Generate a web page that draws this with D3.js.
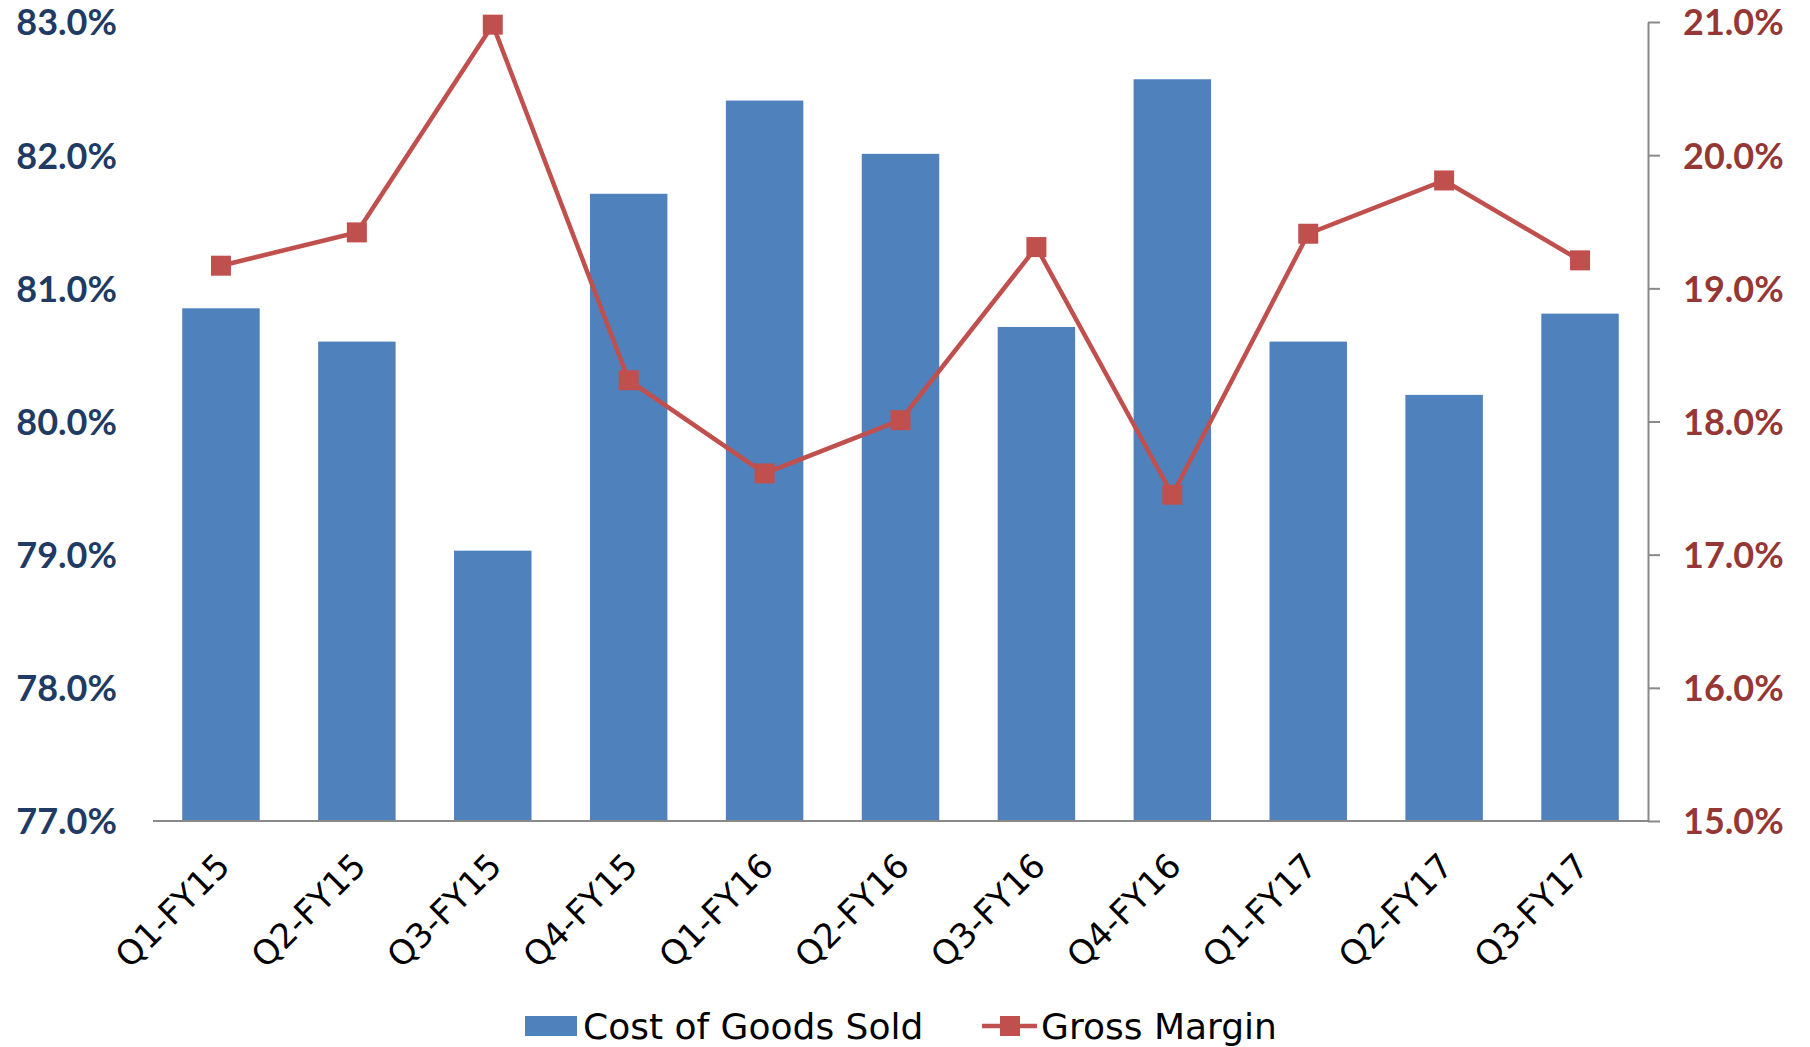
<!DOCTYPE html>
<html>
<head>
<meta charset="utf-8">
<script src="https://cdn.jsdelivr.net/npm/d3@7"></script>
<style>
  body { margin: 0; background: #fff; }
  svg text { font-family: "Lato", "Open Sans", sans-serif; }
  svg text.plain { font-family: "DejaVu Sans", sans-serif; }
</style>
</head>
<body>
<svg id="chart" width="1810" height="1047"></svg>
<script>
// quarters on the x axis
var quarters = ['Q1-FY15', 'Q2-FY15', 'Q3-FY15', 'Q4-FY15', 'Q1-FY16', 'Q2-FY16',
                'Q3-FY16', 'Q4-FY16', 'Q1-FY17', 'Q2-FY17', 'Q3-FY17'];
// bars, left axis (%)
var cogs = [80.85, 80.60, 79.03, 81.71, 82.41, 82.01, 80.71, 82.57, 80.60, 80.20, 80.81];
// line, right axis (%)
var grossMargin = [19.17, 19.42, 20.98, 18.31, 17.61, 18.01, 19.31, 17.45, 19.41, 19.81, 19.21];
var leftTicks = [77, 78, 79, 80, 81, 82, 83];
var rightTicks = [15, 16, 17, 18, 19, 20, 21];

var svg = d3.select('#chart');
var plotLeft = 153, plotRight = 1648, plotTop = 22, plotBottom = 821;

var x = d3.scaleBand()
    .domain(quarters)
    .range([plotLeft, plotRight])
    .paddingInner(0.43)
    .paddingOuter(0.215);

var yL = d3.scaleLinear().domain([77, 83]).range([plotBottom, plotTop]);
var yR = d3.scaleLinear().domain([15, 21]).range([plotBottom, plotTop]);

// bars
svg.selectAll('rect.bar')
    .data(quarters)
    .enter()
    .append('rect')
    .attr('class', 'bar')
    .attr('x', function(d) { return x(d); })
    .attr('width', x.bandwidth())
    .attr('y', function(d, i) { return yL(cogs[i]); })
    .attr('height', function(d, i) { return plotBottom - yL(cogs[i]); })
    .style('fill', '#4F81BD');

// x axis line
svg.append('line')
    .attr('x1', plotLeft).attr('x2', plotRight)
    .attr('y1', plotBottom).attr('y2', plotBottom)
    .style('stroke', '#898989')
    .style('stroke-width', 2);

// left axis labels (no line)
var gl = svg.append('g')
    .attr('transform', 'translate(' + (plotLeft - 36) + ',0)')
    .call(d3.axisLeft(yL).tickValues(leftTicks).tickSize(0).tickPadding(0)
        .tickFormat(function(d) { return d.toFixed(1) + '%'; }));
gl.select('.domain').remove();
gl.selectAll('text')
    .attr('dy', '0.36em')
    .style('font-size', '36px')
    .style('font-weight', 'bold')
    .style('fill', '#1F3B63');

// right axis
var gr = svg.append('g')
    .attr('transform', 'translate(' + plotRight + ',0)')
    .call(d3.axisRight(yR).tickValues(rightTicks).tickSizeInner(12).tickSizeOuter(0).tickPadding(23)
        .tickFormat(function(d) { return d.toFixed(1) + '%'; }));
gr.select('.domain').style('stroke', '#898989').style('stroke-width', 2);
gr.selectAll('.tick line').style('stroke', '#898989').style('stroke-width', 2);
gr.selectAll('text')
    .attr('dy', '0.36em')
    .style('font-size', '36px')
    .style('font-weight', 'bold')
    .style('fill', '#953735');

// x labels rotated
svg.selectAll('text.xlab')
    .data(quarters)
    .enter()
    .append('text')
    .attr('class', 'xlab plain')
    .attr('transform', function(d) {
        return 'translate(' + (x(d) + x.bandwidth() / 2 - 6) + ',' + (plotBottom + 30) + ') rotate(-45)';
    })
    .attr('text-anchor', 'end')
    .attr('dy', '0.7em')
    .style('font-size', '34px')
    .style('fill', '#000')
    .text(function(d) { return d; });

// gross margin line
var line = d3.line()
    .x(function(d, i) { return x(quarters[i]) + x.bandwidth() / 2; })
    .y(function(d) { return yR(d); });

svg.append('path')
    .datum(grossMargin)
    .attr('d', line)
    .style('fill', 'none')
    .style('stroke', '#C0504D')
    .style('stroke-width', 4.5);

svg.selectAll('rect.mark')
    .data(grossMargin)
    .enter()
    .append('rect')
    .attr('class', 'mark')
    .attr('x', function(d, i) { return x(quarters[i]) + x.bandwidth() / 2 - 10; })
    .attr('y', function(d) { return yR(d) - 10; })
    .attr('width', 20)
    .attr('height', 20)
    .style('fill', '#C0504D');

// legend
var lg = svg.append('g');
lg.append('rect')
    .attr('x', 525).attr('y', 1016).attr('width', 52).attr('height', 20)
    .style('fill', '#4F81BD');
lg.append('text')
    .attr('class', 'plain')
    .attr('x', 583).attr('y', 1039)
    .style('font-size', '36px')
    .text('Cost of Goods Sold');
lg.append('line')
    .attr('x1', 982).attr('x2', 1037).attr('y1', 1026).attr('y2', 1026)
    .style('stroke', '#C0504D').style('stroke-width', 4.5);
lg.append('rect')
    .attr('x', 1000).attr('y', 1016).attr('width', 20).attr('height', 20)
    .style('fill', '#C0504D');
lg.append('text')
    .attr('class', 'plain')
    .attr('x', 1041).attr('y', 1039)
    .style('font-size', '36px')
    .text('Gross Margin');
</script>
</body>
</html>
